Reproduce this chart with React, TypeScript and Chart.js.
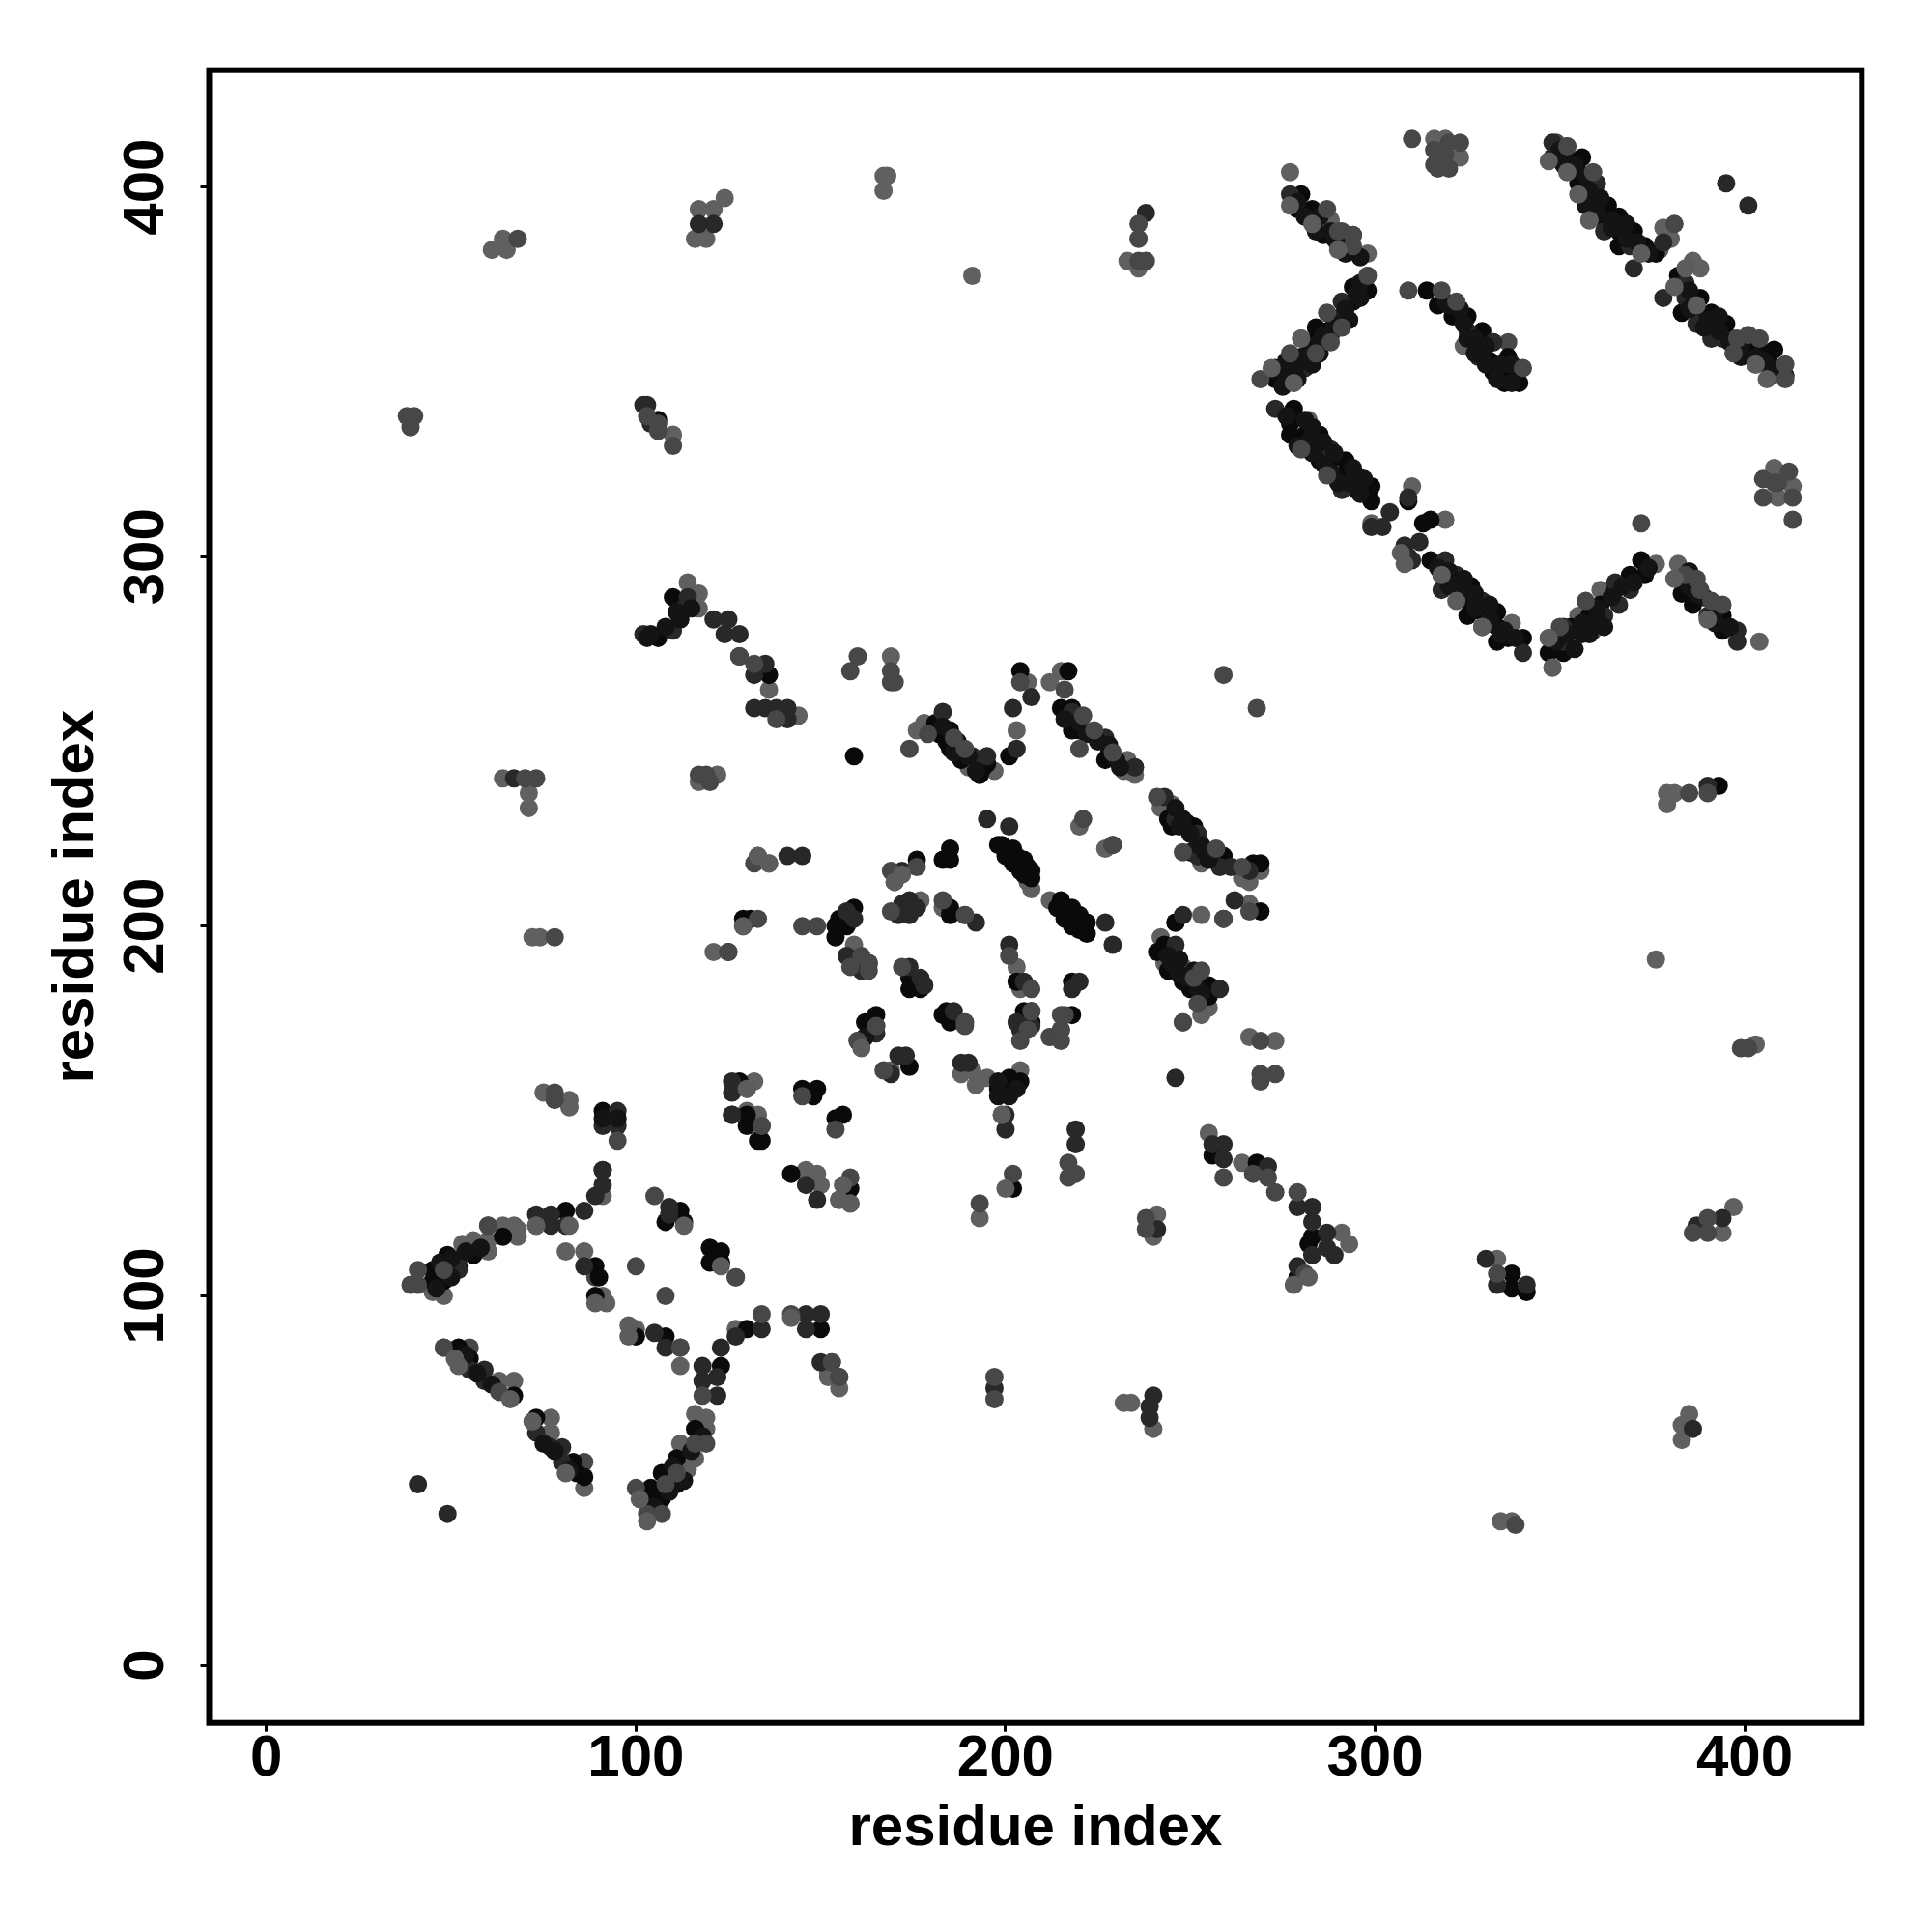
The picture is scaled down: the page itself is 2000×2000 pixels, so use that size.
import React, { useEffect, useRef } from "react";
import { Chart, registerables } from "chart.js";

Chart.register(...registerables);

type P = [number, number];

const tickValues = [0, 100, 200, 300, 400];
const axisTitle = "residue index";

const underGray: P[] = [
  [51,83],[52,81],[66,72],[81,52],[72,66],[101,45],[103,39],[98,89],[98,92],[113,119],[123,108],[199,149],[200,129],[129,200],[142,94],[199,149],[89,98],[82,119],[73,119],[130,156],[161,167],[156,130],[155,126],[158,125],[172,214],[170,212],[133,219],[136,217],[283,390],[290,383],[277,395],[272,351],[347,407],[352,404],[355,398],[358,391],[372,382],[381,373],[387,368],[403,352],[406,348],[384,378],[307,301],[308,298],[318,295],[329,281],[347,278],[348,270],[322,288],[381,294],[390,283],[278,347],[280,359],[278,103],[282,105],
];

const midTones: P[] = [
  [39,103],[41,107],[41,103],[48,107],[60,119],[73,119],[105,127],[112,86],[134,95],[95,142],[100,108],[108,100],[127,105],[48,86],[63,74],[118,73],[142,95],[153,82],[155,78],[100,48],[107,41],[103,41],[108,49],[111,52],[116,60],[119,60],[134,146],[145,154],[154,145],[158,132],[160,169],[165,173],[167,161],[189,173],[212,170],[215,169],[216,176],[248,174],[202,133],[217,136],[219,133],[217,132],[238,121],[238,118],[193,125],[197,78],[197,72],[128,273],[132,271],[138,256],[160,273],[158,269],[169,269],[169,266],[170,266],[179,252],[186,251],[174,248],[189,248],[204,266],[216,264],[221,257],[224,253],[229,247],[220,248],[241,235],[248,220],[257,221],[264,216],[266,204],[259,202],[251,186],[252,179],[248,174],[269,169],[269,160],[269,158],[273,160],[259,268],[268,259],[221,229],[229,222],[172,189],[201,192],[169,215],[176,216],[132,217],[161,192],[158,189],[163,190],[163,188],[169,204],[183,207],[189,203],[207,183],[215,176],[215,172],[204,169],[206,172],[207,177],[189,174],[253,188],[125,193],[145,200],[149,200],[133,202],
  [287,394],[290,388],[294,387],[294,384],[298,376],[287,366],[291,362],[288,358],[277,355],[284,355],[269,348],[310,413],[323,412],[320,412],[316,410],[319,409],[316,406],[320,405],[317,405],[309,372],[318,372],[322,369],[340,351],[352,411],[359,404],[358,391],[398,359],[401,360],[404,359],[397,355],[411,352],[411,348],[405,321],[408,320],[412,323],[405,316],[413,316],[413,310],[372,309],[280,329],[287,322],[329,281],[350,281],[357,288],[348,270],[384,295],[387,294],[388,291],[391,288],[394,287],
  [39,335],[38,338],[40,338],[68,386],[103,338],[106,334],[110,330],[73,240],[70,240],[78,197],[117,241],[119,241],[120,239],[78,155],[78,153],[385,236],[390,236],[399,167],[401,167],[390,121],[386,117],[390,117],[333,106],[338,38],[273,128],[279,128],[259,132],[267,133],[271,132],[281,106],[106,336],[236,390],[236,386],[236,380],[238,380],
];

const bandFill: P[] = [
  [279,396],[281,392],[285,392],[288,388],[289,386],[292,385],[292,382],[296,381],[284,388],
  [275,350],[279,352],[282,355],[285,358],[286,360],[289,363],[292,367],[295,371],[296,374],[275,346],[279,348],[283,352],[285,355],[288,360],[290,362],[293,364],[296,370],[276,353],
  [319,369],[323,367],[324,363],[327,359],[330,357],[327,355],[330,352],[334,352],[333,348],[337,347],[337,352],[325,359],[329,355],[320,368],
  [350,410],[354,406],[357,403],[358,399],[361,397],[360,393],[364,389],[368,386],[371,385],[374,382],[351,406],[357,395],[364,391],[368,390],
  [385,372],[386,368],[390,364],[393,361],[396,358],[399,357],[403,354],[405,353],[409,350],[385,367],[389,362],[393,365],[399,354],[406,352],
  [279,330],[282,331],[283,328],[286,325],[288,323],[290,320],[293,320],[296,317],[281,337],[276,338],[283,335],[286,331],[289,328],[294,324],[297,321],
  [317,297],[320,292],[324,290],[327,286],[331,283],[334,279],[338,278],[320,296],[324,294],[327,290],[331,287],[335,280],
  [349,277],[352,279],[354,275],[356,282],[358,279],[360,286],[362,281],[364,289],[367,292],[370,293],[374,297],[356,279],[360,283],
  [385,292],[389,289],[392,285],[396,281],[387,290],[392,282],[385,296],
  [246,232],[248,229],[250,225],[253,222],[254,220],[255,218],[247,227],[256,220],[252,222],
  [183,254],[187,250],[188,248],[190,246],[192,242],[186,247],
  [216,256],[220,255],[222,252],[225,250],[228,249],[230,245],[231,243],
  [244,192],[245,190],[247,187],[249,186],[252,183],[253,182],[247,191],[251,188],
  [47,109],[50,110],[54,112],[46,102],[58,113],[50,105],[91,148],[95,148],
  [105,43],[109,47],[113,50],[110,54],[115,58],[118,62],[75,60],[78,58],[82,53],[54,84],[57,79],[61,76],
  [103,278],[104,279],[108,281],[112,283],[115,286],[111,285],[198,158],[203,156],[201,154],[198,154],[162,170],
];

const darkTones: P[] = [
  [52,107],[52,110],[73,122],[77,122],[77,119],[81,119],[86,123],[89,127],[91,130],[91,134],[91,146],[95,146],[95,150],[126,149],[86,108],[109,124],[109,122],[59,80],[59,77],[55,80],[73,63],[77,59],[80,59],[80,55],[41,49],[49,41],[118,77],[122,73],[122,78],[118,81],[123,86],[127,89],[134,91],[146,95],[150,95],[146,91],[105,90],[108,86],[150,82],[165,171],[160,169],[169,160],[171,165],[173,165],[188,163],[190,163],[200,149],[200,145],[219,145],[219,141],[215,172],[246,159],[126,158],[126,155],[126,149],[146,130],[149,126],[158,125],[155,126],[197,75],[240,73],[239,70],[239,67],[241,118],[132,268],[135,271],[132,259],[135,259],[138,259],[141,259],[141,256],[183,258],[191,246],[195,246],[202,259],[207,262],[203,248],[218,258],[227,251],[235,243],[243,235],[246,229],[252,225],[252,219],[258,216],[261,216],[266,215],[262,207],[259,202],[248,203],[246,195],[258,183],[201,227],[195,229],[227,201],[229,195],[229,222],[172,215],[141,219],[145,219],[157,204],[159,202],[157,192],[161,188],[172,206],[171,203],[174,207],[174,203],[176,205],[192,201],[174,189],[177,186],[178,184],[186,177],[201,195],[205,185],[203,174],[205,173],[207,173],[204,172],[218,183],[220,185],[128,273],
  [277,398],[283,391],[294,383],[291,369],[291,365],[281,351],[370,378],[325,361],[332,358],[328,354],[348,412],[360,401],[359,394],[362,388],[369,384],[378,385],[395,401],[401,395],[384,374],[378,370],[384,370],[387,363],[394,359],[391,359],[411,349],[273,340],[288,329],[295,322],[291,318],[309,316],[304,312],[302,308],[299,308],[312,304],[308,303],[309,300],[310,299],[319,299],[322,295],[318,291],[329,288],[340,274],[351,281],[351,277],[362,284],[366,287],[365,293],[369,291],[390,284],[398,280],[398,277],
  [102,341],[103,341],[104,336],[117,390],[121,390],[238,393],[67,240],[390,238],[125,193],[394,121],[387,119],[330,110],[333,103],[341,103],[386,64],[256,141],[259,141],[259,137],[271,135],[279,124],[283,124],[283,120],[287,117],[287,113],[283,111],[289,111],[279,108],[102,279],[110,280],[113,286],[121,283],[125,283],[124,279],[128,279],[114,289],
];

const blackTones: P[] = [
  [45,107],[45,104],[48,104],[49,111],[52,108],[56,111],[64,116],[81,123],[89,108],[89,100],[90,105],[108,120],[112,123],[113,120],[120,113],[123,112],[120,109],[123,109],[52,86],[55,83],[67,73],[73,67],[83,55],[86,51],[84,52],[104,48],[103,45],[107,45],[105,46],[107,52],[111,49],[111,56],[116,64],[100,89],[108,89],[130,91],[123,81],[150,91],[91,150],[130,146],[133,142],[134,142],[128,158],[145,156],[148,154],[149,156],[154,148],[156,149],[142,133],[158,129],[162,174],[174,162],[165,176],[130,149],
  [198,156],[200,155],[201,159],[200,157],[204,158],[202,129],[218,176],[136,268],[159,246],[181,255],[185,253],[182,252],[184,250],[185,248],[188,245],[194,243],[193,241],[195,244],[201,246],[204,269],[215,259],[218,259],[217,269],[220,253],[218,253],[227,245],[228,247],[244,229],[245,227],[249,228],[251,227],[250,220],[252,219],[259,219],[269,217],[267,217],[269,204],[246,201],[241,193],[243,195],[246,192],[244,188],[248,185],[253,185],[250,183],[255,184],[255,181],[198,222],[199,222],[200,221],[202,221],[200,219],[203,219],[202,217],[205,218],[204,215],[206,216],[207,215],[205,214],[207,213],[215,207],[214,205],[218,205],[216,202],[220,203],[218,200],[222,201],[222,198],[220,199],[185,221],[183,218],[185,218],[176,218],[129,202],[131,202],[154,200],[155,202],[154,197],[157,200],[159,205],[185,205],[185,203],[174,186],[174,183],[177,183],[203,185],[218,185],[184,177],[183,176],[185,174],[205,177],[207,174],[246,201],[193,241],
  [280,398],[279,394],[283,394],[286,387],[290,384],[294,373],[298,372],[294,369],[284,362],[287,361],[283,358],[280,354],[273,351],[277,351],[273,348],[314,372],[317,368],[321,365],[325,365],[329,361],[328,357],[331,353],[336,354],[332,350],[335,347],[339,347],[336,350],[348,408],[352,408],[356,408],[355,404],[355,401],[363,395],[362,391],[366,392],[366,388],[370,388],[366,384],[373,384],[376,382],[382,376],[388,370],[383,366],[391,366],[387,366],[395,363],[401,356],[404,356],[408,356],[407,352],[407,349],
  [278,340],[277,336],[277,333],[281,333],[285,333],[284,329],[285,326],[288,326],[292,326],[291,322],[295,318],[299,319],[299,315],[309,315],[315,310],[313,309],[315,299],[318,295],[322,292],[326,292],[325,288],[325,284],[329,285],[333,285],[333,281],[333,277],[336,278],[340,278],[347,274],[351,274],[353,281],[358,284],[361,287],[365,291],[369,295],[373,295],[372,299],[383,290],[386,287],[394,284],[394,280],[106,278],[110,289],[106,337],[393,238],[337,106],[337,102],[341,101],[283,116],[282,114],[279,105],[256,138],[268,136],
];

const topMid: P[] = [
  [55,86],[86,55],[89,105],[91,134],[123,109],[134,146],[153,82],[155,78],[165,173],[189,174],[186,251],[235,243],[252,225],[189,203],[178,184],[176,205],[163,190],[349,412],[352,411],[360,401],[336,358],[411,349],[381,390],[294,387],[291,388],[332,358],[409,320],[207,177],
];

const topGray: P[] = [
  [45,101],[48,100],[53,114],[56,115],[60,115],[60,112],[60,119],[64,119],[68,116],[67,119],[68,118],[91,127],[81,112],[86,112],[92,98],[91,100],[127,105],[112,81],[112,86],[77,67],[77,63],[67,77],[63,77],[48,86],[86,48],[114,53],[116,56],[112,60],[113,57],[119,64],[116,68],[119,67],[127,91],[100,91],[132,158],[130,156],[130,150],[133,149],[146,134],[149,133],[150,130],[161,168],[169,161],[191,161],[195,159],[192,157],[188,160],[204,161],[146,133],[155,75],[152,79],[152,78],[193,121],[232,71],[234,71],[240,64],[240,116],[241,122],[136,264],[144,257],[169,273],[176,253],[178,255],[189,247],[192,244],[190,243],[197,242],[203,253],[206,266],[212,266],[215,269],[233,245],[235,241],[232,242],[245,233],[242,232],[253,217],[264,213],[266,212],[269,215],[266,206],[253,203],[242,197],[243,190],[248,189],[255,178],[253,176],[266,170],[273,169],[207,210],[206,212],[212,207],[220,227],[227,221],[170,212],[133,219],[136,217],[129,200],[159,195],[177,207],[183,205],[203,189],[204,183],[207,177],[212,170],
  [277,404],[288,391],[298,382],[291,383],[280,359],[298,376],[278,347],[316,413],[319,413],[323,408],[324,357],[359,398],[378,389],[380,386],[377,383],[386,380],[388,378],[391,362],[397,359],[404,359],[403,352],[408,324],[413,319],[409,316],[282,337],[310,319],[319,310],[299,309],[337,282],[355,284],[359,280],[361,291],[382,298],[404,277],[347,278],[376,298],
  [61,383],[64,386],[65,383],[117,394],[116,386],[119,386],[121,394],[124,397],[167,403],[168,403],[167,399],[191,376],[233,380],[236,378],[110,333],[64,240],[71,236],[71,232],[72,197],[74,197],[122,241],[117,239],[121,193],[75,155],[82,153],[82,151],[379,236],[381,236],[379,233],[376,191],[403,168],[397,124],[394,117],[333,110],[334,39],[337,39],[385,68],[383,65],[383,61],[255,144],[264,136],[291,117],[293,114],[114,293],[117,290],[117,286],[128,273],
];

const layers: { data: P[]; color: string }[] = [
  { data: underGray, color: "#5c5c5c" },
  { data: midTones, color: "#474747" },
  { data: bandFill, color: "#141414" },
  { data: darkTones, color: "#282828" },
  { data: blackTones, color: "#0a0a0a" },
  { data: topMid, color: "#474747" },
  { data: topGray, color: "#606060" },
];

const FONT = "'Liberation Sans', Arial, sans-serif";

const frame = {
  id: "frame",
  afterDatasetsDraw(chart: any) {
    const { ctx, chartArea: a } = chart;
    ctx.save();
    ctx.strokeStyle = "#000";
    ctx.lineWidth = 6;
    ctx.lineJoin = "miter";
    ctx.strokeRect(a.left, a.top, a.right - a.left, a.bottom - a.top);
    ctx.restore();
  },
};

export default function App() {
  const ref = useRef<HTMLCanvasElement>(null);
  useEffect(() => {
    document.body.style.margin = "0";
    const setTicks = (s: any) => {
      s.ticks = tickValues.map((value) => ({ value }));
    };
    const chart = new Chart(ref.current as HTMLCanvasElement, {
      type: "scatter",
      data: {
        datasets: layers.map((l) => ({
          data: l.data.map(([x, y]) => ({ x, y })),
          backgroundColor: l.color,
          borderWidth: 0,
          pointRadius: 9.5,
          pointHoverRadius: 9.5,
        })),
      },
      plugins: [frame],
      options: {
        responsive: false,
        animation: false,
        layout: { padding: { left: 0, top: 72.7, right: 72.7, bottom: 0 } },
        plugins: { legend: { display: false }, tooltip: { enabled: false } },
        scales: {
          x: {
            type: "linear",
            min: -15.5,
            max: 431.7,
            afterBuildTicks: setTicks,
            afterFit: (s: any) => { s.height = 216.3; },
            border: { display: false },
            grid: { drawOnChartArea: false, drawTicks: true, tickLength: 9, tickWidth: 3, tickColor: "#000" },
            ticks: {
              color: "#000", padding: -7, maxRotation: 0, minRotation: 0, autoSkip: false,
              font: { family: FONT, size: 60, weight: "bold" },
            },
            title: {
              display: true, text: axisTitle, color: "#000",
              font: { family: FONT, size: 60, weight: "bold" },
              padding: { top: 0, bottom: 71 },
            },
          },
          y: {
            type: "linear",
            min: -15.6,
            max: 431.6,
            afterBuildTicks: setTicks,
            afterFit: (s: any) => { s.width = 216.5; },
            border: { display: false },
            grid: { drawOnChartArea: false, drawTicks: true, tickLength: 9, tickWidth: 3, tickColor: "#000" },
            ticks: {
              color: "#000", padding: 5, minRotation: 90, maxRotation: 90, crossAlign: "center", autoSkip: false,
              font: { family: FONT, size: 60, weight: "bold" },
            },
            title: {
              display: true, text: axisTitle, color: "#000",
              font: { family: FONT, size: 60, weight: "bold" },
              padding: { top: 43, bottom: 43 },
            },
          },
        },
      } as any,
    });
    return () => chart.destroy();
  }, []);
  return <canvas ref={ref} width={2000} height={2000} style={{ display: "block" }} />;
}
